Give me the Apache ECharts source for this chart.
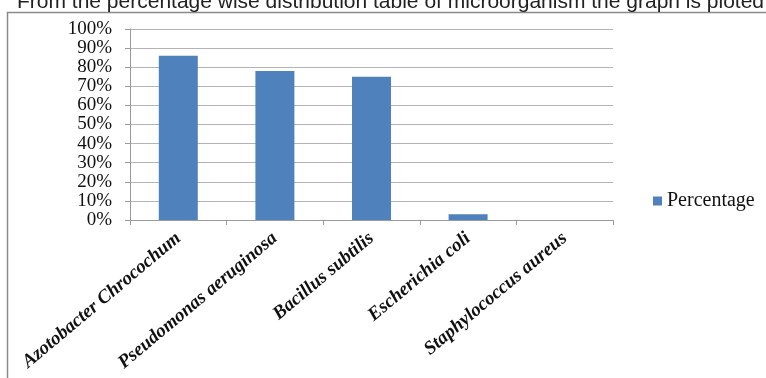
<!DOCTYPE html>
<html>
<head>
<meta charset="utf-8">
<script src="https://cdn.jsdelivr.net/npm/echarts@6/dist/echarts.min.js"></script>
<style>html,body{margin:0;padding:0;background:#fff;}#c{width:766px;height:378px;}</style>
</head>
<body>
<div id="c"></div>
<script>
var categories = ['Azotobacter Chrocochum', 'Pseudomonas aeruginosa', 'Bacillus subtilis', 'Escherichia coli', 'Staphylococcus aureus'];
var percentage = [86, 78, 75, 3, 0];
var seriesName = 'Percentage';
var titleText = 'From the percentage wise distribution table of microorganism the graph is ploted';

var chart = echarts.init(document.getElementById('c'), null, {renderer: 'canvas'});
chart.setOption({
  animation: false,
  backgroundColor: '#fff',
  graphic: [
    {type: 'text', left: 17, top: -8, style: {text: titleText, font: '21px "Liberation Sans", Arial, sans-serif', fill: '#222'}},
    {type: 'rect', shape: {x: 7.5, y: 12.5, width: 800, height: 400}, style: {fill: 'none', stroke: '#8a8a8a', lineWidth: 1.5}, z: -1}
  ],
  legend: {
    data: [seriesName],
    left: 648, top: 186,
    itemWidth: 9, itemHeight: 9, itemGap: 5,
    icon: 'rect',
    textStyle: {fontFamily: '"Liberation Serif", "Times New Roman", serif', fontSize: 20, color: '#111'}
  },
  grid: {left: 130, right: 153, top: 29, bottom: 158, containLabel: false},
  xAxis: {
    type: 'category',
    data: categories,
    axisLine: {lineStyle: {color: '#9a9a9a', width: 1}},
    axisTick: {show: true, length: 5, lineStyle: {color: '#9a9a9a'}},
    axisLabel: {
      interval: 0, rotate: 40, margin: 16,
      fontFamily: '"Liberation Serif", "Times New Roman", serif',
      fontStyle: 'italic', fontWeight: 'bold', fontSize: 19, color: '#111'
    }
  },
  yAxis: {
    type: 'value', min: 0, max: 100, interval: 10,
    axisLine: {show: true, lineStyle: {color: '#9a9a9a'}},
    axisTick: {show: true, length: 5, lineStyle: {color: '#9a9a9a'}},
    splitLine: {lineStyle: {color: '#b4b4b4'}},
    axisLabel: {
      formatter: '{value}%', margin: 18,
      fontFamily: '"Liberation Serif", "Times New Roman", serif', fontSize: 19, color: '#111'
    }
  },
  series: [{
    name: seriesName, type: 'bar', data: percentage, barWidth: 39,
    itemStyle: {color: '#4f81bd'}
  }]
});
</script>
</body>
</html>
